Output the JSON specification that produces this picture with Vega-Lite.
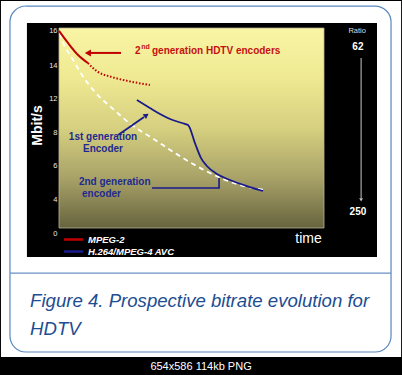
{
  "$schema": "https://vega.github.io/schema/vega-lite/v6.json",
  "width": 265,
  "height": 200,
  "autosize": {"type": "none"},
  "padding": {"left": 59, "top": 28, "right": 78, "bottom": 147},
  "background": "black",
  "config": {"font": "Liberation Sans", "view": {"stroke": null}, "axis": {"labelOverlap": false}},
  "data": {"values": [{}]},
  "datasets": {
    "mpeg2": [
      {"series": "MPEG-2", "part": "current", "time": 0, "rate": 15.95},
      {"series": "MPEG-2", "part": "current", "time": 0.34, "rate": 15.26},
      {"series": "MPEG-2", "part": "current", "time": 0.72, "rate": 14.57},
      {"series": "MPEG-2", "part": "current", "time": 1.09, "rate": 14.11},
      {"series": "MPEG-2", "part": "projected", "time": 1.09, "rate": 14.11},
      {"series": "MPEG-2", "part": "projected", "time": 1.47, "rate": 13.58},
      {"series": "MPEG-2", "part": "projected", "time": 2.0, "rate": 13.27},
      {"series": "MPEG-2", "part": "projected", "time": 2.6, "rate": 13.03},
      {"series": "MPEG-2", "part": "projected", "time": 3.43, "rate": 12.79}
    ],
    "h264": [
      {"series": "H.264/MPEG-4 AVC", "time": 2.94, "rate": 11.76},
      {"series": "H.264/MPEG-4 AVC", "time": 3.43, "rate": 10.82},
      {"series": "H.264/MPEG-4 AVC", "time": 3.81, "rate": 10.12},
      {"series": "H.264/MPEG-4 AVC", "time": 4.19, "rate": 9.53},
      {"series": "H.264/MPEG-4 AVC", "time": 4.64, "rate": 9.06},
      {"series": "H.264/MPEG-4 AVC", "time": 4.87, "rate": 8.82},
      {"series": "H.264/MPEG-4 AVC", "time": 5.13, "rate": 7.33},
      {"series": "H.264/MPEG-4 AVC", "time": 5.36, "rate": 6.42},
      {"series": "H.264/MPEG-4 AVC", "time": 5.58, "rate": 5.94},
      {"series": "H.264/MPEG-4 AVC", "time": 5.96, "rate": 5.47},
      {"series": "H.264/MPEG-4 AVC", "time": 6.45, "rate": 5.12},
      {"series": "H.264/MPEG-4 AVC", "time": 7.09, "rate": 4.76},
      {"series": "H.264/MPEG-4 AVC", "time": 7.7, "rate": 4.47}
    ],
    "trend": [
      {"time": 0.04, "rate": 15.83},
      {"time": 0.15, "rate": 15.31},
      {"time": 0.49, "rate": 14.4},
      {"time": 0.87, "rate": 13.39},
      {"time": 1.36, "rate": 12.36},
      {"time": 2.0, "rate": 10.82},
      {"time": 2.75, "rate": 8.82},
      {"time": 3.51, "rate": 7.64},
      {"time": 4.68, "rate": 6.42},
      {"time": 5.62, "rate": 5.59},
      {"time": 6.83, "rate": 4.82},
      {"time": 7.77, "rate": 4.53}
    ],
    "bracket": [
      {"i": 0, "time": 3.51, "rate": 4.65},
      {"i": 1, "time": 6.04, "rate": 4.65},
      {"i": 2, "time": 6.04, "rate": 5.24}
    ]
  },
  "layer": [
    {
      "mark": {"type": "rect", "fill": "white"},
      "encoding": {
        "x": {"datum": -2.19, "type": "quantitative",
          "scale": {"domain": [0, 10], "nice": false, "zero": false},
          "axis": {"title": "time", "labels": false, "ticks": false, "domain": false, "grid": false, "zindex": 1,
            "titleColor": "white", "titleFontSize": 14, "titleFontWeight": "normal", "titleX": 249, "titleY": 10,
            "titleAlign": "center", "titleBaseline": "middle"}},
        "x2": {"datum": 12.91},
        "y": {"datum": 17.66, "type": "quantitative",
          "scale": {"domain": [0, 4, 6, 8, 12, 14, 16], "range": [205, 171, 137, 104, 70, 37, 2], "nice": false, "zero": false},
          "axis": {"title": "Mbit/s", "values": [0, 4, 6, 8, 12, 14, 16], "tickCount": 12, "labelColor": "#e6e6e6", "labelFontSize": 7.5,
            "labelPadding": 2, "labelFlush": false, "labelOverlap": false, "ticks": false, "domain": false, "grid": false, "zindex": 1,
            "titleColor": "white", "titleFontSize": 14, "titleFontWeight": "bold", "titleX": -22, "titleY": 97,
            "titleAlign": "center", "titleBaseline": "middle", "titleAngle": 270}},
        "y2": {"datum": -14.59}
      }
    },
    {
      "mark": {"type": "rect", "fill": "transparent", "stroke": "#5b87bf", "strokeWidth": 1.2, "cornerRadius": 16},
      "encoding": {"x": {"datum": -1.85}, "x2": {"datum": 12.53}, "y": {"datum": 17.37}, "y2": {"datum": -14.0}}
    },
    {
      "mark": {"type": "rule", "color": "#6a8fc4", "strokeWidth": 1.2},
      "encoding": {"x": {"datum": -1.85}, "x2": {"datum": 12.53}, "y": {"datum": -4.71}}
    },
    {
      "mark": {"type": "rect", "fill": "black"},
      "encoding": {"x": {"datum": -1.21}, "x2": {"datum": 12.0}, "y": {"datum": 16.4}, "y2": {"datum": -2.82}}
    },
    {
      "mark": {"type": "rect", "stroke": "#b9b595", "strokeWidth": 0.8,
        "fill": {"gradient": "linear", "x1": 0, "y1": 0, "x2": 0, "y2": 1,
          "stops": [
            {"offset": 0, "color": "#f9f5a5"},
            {"offset": 0.25, "color": "#efe992"},
            {"offset": 0.5, "color": "#d6d080"},
            {"offset": 0.75, "color": "#a8a268"},
            {"offset": 1, "color": "#67643e"}
          ]}},
      "encoding": {"x": {"datum": 0}, "x2": {"datum": 10}, "y": {"datum": 16.11}, "y2": {"datum": 0.59}}
    },
    {
      "data": {"name": "trend"},
      "mark": {"type": "line", "color": "white", "strokeWidth": 1.8, "strokeDash": [5, 4], "interpolate": "monotone"},
      "encoding": {"x": {"field": "time", "type": "quantitative"}, "y": {"field": "rate", "type": "quantitative"}}
    },
    {
      "data": {"name": "mpeg2"},
      "transform": [{"filter": "datum.part === 'current'"}],
      "mark": {"type": "line", "strokeWidth": 2, "interpolate": "monotone"},
      "encoding": {
        "x": {"field": "time", "type": "quantitative"},
        "y": {"field": "rate", "type": "quantitative"},
        "color": {"field": "series", "type": "nominal",
          "scale": {"domain": ["MPEG-2", "H.264/MPEG-4 AVC"], "range": ["#c00000", "#1a1a8c"]},
          "legend": {"title": null, "orient": "none", "legendX": 8, "legendY": 205, "padding": 0, "rowPadding": -2,
            "labelColor": "white", "labelFontSize": 9.5, "labelFontStyle": "italic", "labelFontWeight": "bold",
            "symbolType": "M-1.9,0H1.9", "symbolSize": 100, "symbolStrokeWidth": 2.5, "labelOffset": 8, "zindex": 2}}
      }
    },
    {
      "data": {"name": "mpeg2"},
      "transform": [{"filter": "datum.part === 'projected'"}],
      "mark": {"type": "line", "color": "#c00000", "strokeWidth": 2, "strokeDash": [1.5, 1.8], "interpolate": "monotone"},
      "encoding": {"x": {"field": "time", "type": "quantitative"}, "y": {"field": "rate", "type": "quantitative"}}
    },
    {
      "data": {"name": "h264"},
      "mark": {"type": "line", "strokeWidth": 1.8, "interpolate": "monotone"},
      "encoding": {
        "x": {"field": "time", "type": "quantitative"},
        "y": {"field": "rate", "type": "quantitative"},
        "color": {"field": "series", "type": "nominal"}
      }
    },
    {
      "data": {"name": "bracket"},
      "mark": {"type": "line", "color": "#1a1a8c", "strokeWidth": 1.6},
      "encoding": {"x": {"field": "time", "type": "quantitative"}, "y": {"field": "rate", "type": "quantitative"}, "order": {"field": "i"}}
    },
    {
      "mark": {"type": "rule", "color": "#c00000", "strokeWidth": 2},
      "encoding": {"x": {"datum": 1.17}, "x2": {"datum": 2.34}, "y": {"datum": 14.69}}
    },
    {
      "mark": {"type": "point", "shape": "triangle-left", "filled": true, "size": 50, "color": "#c00000", "opacity": 1},
      "encoding": {"x": {"datum": 1.09}, "y": {"datum": 14.69}}
    },
    {
      "mark": {"type": "rule", "color": "#1a1a8c", "strokeWidth": 1.8},
      "encoding": {"x": {"datum": 2.23}, "y": {"datum": 7.82}, "x2": {"datum": 3.21}, "y2": {"datum": 9.76}}
    },
    {
      "mark": {"type": "point", "shape": "triangle-up", "filled": true, "size": 35, "color": "#1a1a8c", "opacity": 1, "angle": 55},
      "encoding": {"x": {"datum": 3.3}, "y": {"datum": 9.98}}
    },
    {
      "mark": {"type": "rule", "color": "#c8c8c8", "strokeWidth": 1},
      "encoding": {"x": {"datum": 11.4}, "y": {"datum": 14.4}, "y2": {"datum": 4.06}}
    },
    {
      "mark": {"type": "point", "shape": "triangle-down", "filled": true, "size": 14, "color": "#c8c8c8", "opacity": 1},
      "encoding": {"x": {"datum": 11.4}, "y": {"datum": 3.9}}
    },
    {
      "mark": {"type": "text", "text": "2", "align": "left", "baseline": "alphabetic", "fontSize": 10, "fontWeight": "bold", "color": "#c41010"},
      "encoding": {"x": {"datum": 2.87}, "y": {"datum": 14.63}}
    },
    {
      "mark": {"type": "text", "text": "nd", "align": "left", "baseline": "alphabetic", "fontSize": 7, "fontWeight": "bold", "color": "#c41010"},
      "encoding": {"x": {"datum": 3.1}, "y": {"datum": 14.91}}
    },
    {
      "mark": {"type": "text", "text": "generation HDTV encoders", "align": "left", "baseline": "alphabetic", "fontSize": 10, "fontWeight": "bold", "color": "#c41010"},
      "encoding": {"x": {"datum": 3.51}, "y": {"datum": 14.63}}
    },
    {
      "mark": {"type": "text", "text": "1st generation", "align": "center", "baseline": "middle", "fontSize": 10, "fontWeight": "bold", "color": "#1f2a8f"},
      "encoding": {"x": {"datum": 1.66}, "y": {"datum": 7.7}}
    },
    {
      "mark": {"type": "text", "text": "Encoder", "align": "center", "baseline": "middle", "fontSize": 10, "fontWeight": "bold", "color": "#1f2a8f"},
      "encoding": {"x": {"datum": 1.66}, "y": {"datum": 7.0}}
    },
    {
      "mark": {"type": "text", "text": "2nd generation", "align": "left", "baseline": "middle", "fontSize": 10, "fontWeight": "bold", "color": "#1f2a8f"},
      "encoding": {"x": {"datum": 0.75}, "y": {"datum": 5.02}}
    },
    {
      "mark": {"type": "text", "text": "encoder", "align": "left", "baseline": "middle", "fontSize": 10, "fontWeight": "bold", "color": "#1f2a8f"},
      "encoding": {"x": {"datum": 0.87}, "y": {"datum": 4.28}}
    },
    {
      "mark": {"type": "text", "text": "Ratio", "align": "center", "baseline": "middle", "fontSize": 7.5, "color": "#dddddd"},
      "encoding": {"x": {"datum": 11.25}, "y": {"datum": 15.94}}
    },
    {
      "mark": {"type": "text", "text": "62", "align": "center", "baseline": "middle", "fontSize": 10, "fontWeight": "bold", "color": "white"},
      "encoding": {"x": {"datum": 11.28}, "y": {"datum": 15.03}}
    },
    {
      "mark": {"type": "text", "text": "250", "align": "center", "baseline": "middle", "fontSize": 10, "fontWeight": "bold", "color": "white"},
      "encoding": {"x": {"datum": 11.28}, "y": {"datum": 2.47}}
    },
    {
      "mark": {"type": "text", "text": ["Figure 4. Prospective bitrate evolution for", "HDTV"], "lineHeight": 28, "align": "left", "baseline": "alphabetic", "fontSize": 18.6, "fontStyle": "italic", "color": "#1d4d92"},
      "encoding": {"x": {"datum": -1.09}, "y": {"datum": -8.71}}
    },
    {
      "mark": {"type": "text", "text": "654x586 114kb PNG", "align": "center", "baseline": "middle", "fontSize": 11, "color": "white"},
      "encoding": {"x": {"datum": 5.36}, "y": {"datum": -15.76}}
    }
  ]
}
